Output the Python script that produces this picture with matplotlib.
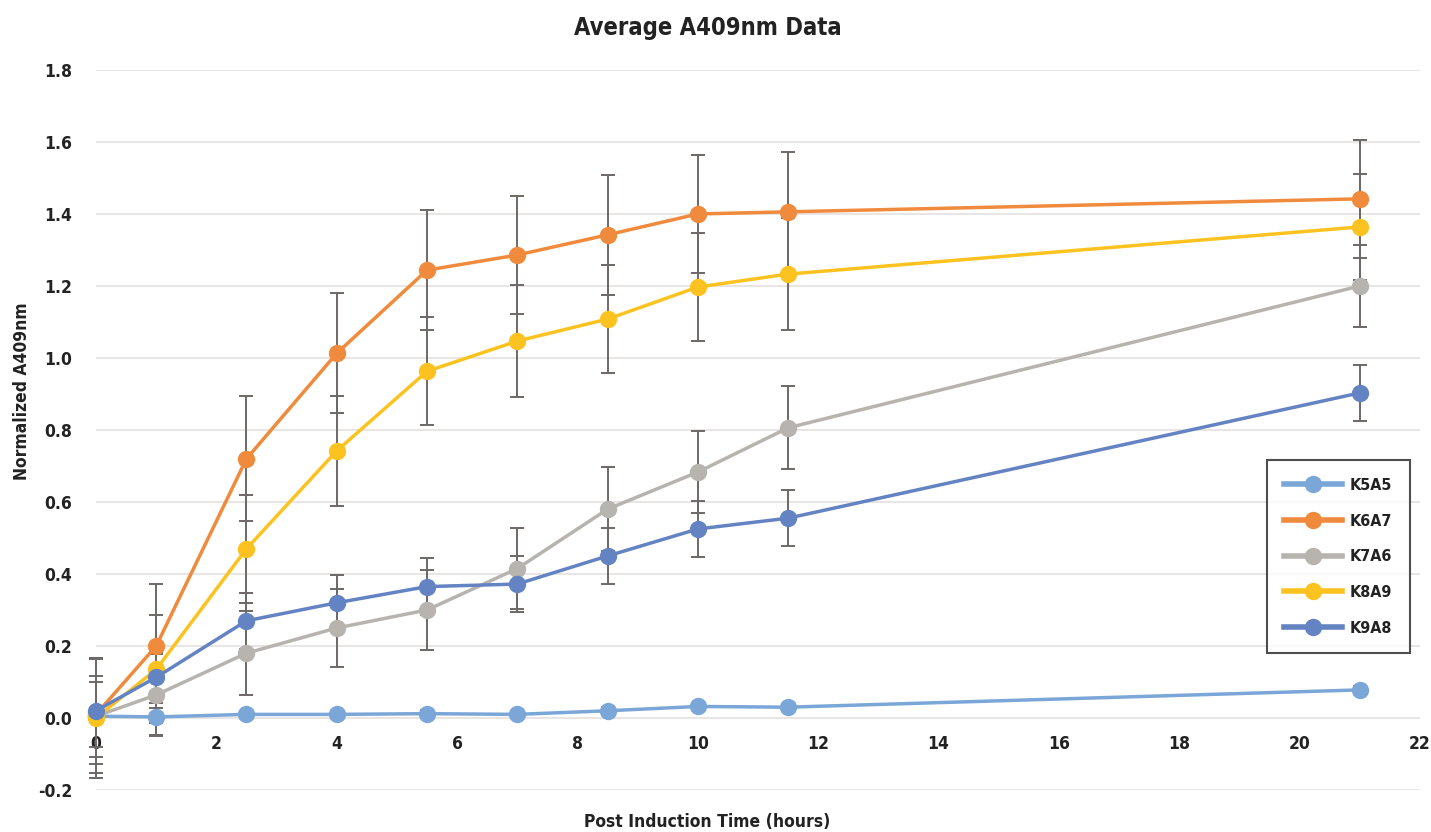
import matplotlib
matplotlib.use("Agg")
import matplotlib.pyplot as plt
from matplotlib import font_manager

# ---------------- data ----------------
time_h = [0, 1, 2.5, 4, 5.5, 7, 8.5, 10, 11.5, 21]
series_names = ["K5A5", "K6A7", "K7A6", "K8A9", "K9A8"]

k5a5 = [0.005, 0.003, 0.010, 0.010, 0.012, 0.010, 0.020, 0.032, 0.030, 0.078]
k6a7 = [0.010, 0.200, 0.720, 1.013, 1.244, 1.286, 1.342, 1.400, 1.406, 1.442]
k7a6 = [0.005, 0.064, 0.180, 0.250, 0.300, 0.415, 0.580, 0.683, 0.806, 1.200]
k8a9 = [0.000, 0.135, 0.470, 0.742, 0.963, 1.047, 1.108, 1.197, 1.233, 1.364]
k9a8 = [0.020, 0.113, 0.270, 0.320, 0.365, 0.372, 0.450, 0.525, 0.555, 0.903]

k5a5_err = [0.158, 0.050, 0.010, 0.010, 0.010, 0.010, 0.010, 0.010, 0.010, 0.010]
k6a7_err = [0.090, 0.172, 0.174, 0.167, 0.167, 0.164, 0.166, 0.164, 0.167, 0.164]
k7a6_err = [0.112, 0.114, 0.117, 0.107, 0.110, 0.112, 0.117, 0.115, 0.115, 0.114]
k8a9_err = [0.167, 0.150, 0.150, 0.153, 0.150, 0.155, 0.150, 0.150, 0.155, 0.147]
k9a8_err = [0.147, 0.070, 0.078, 0.078, 0.078, 0.078, 0.078, 0.078, 0.077, 0.078]

x_ticks = [0, 2, 4, 6, 8, 10, 12, 14, 16, 18, 20, 22]
y_ticks = [-0.2, 0.0, 0.2, 0.4, 0.6, 0.8, 1.0, 1.2, 1.4, 1.6, 1.8]

colors = ["#7aa7d8", "#f08a3c", "#b7b3af", "#fcc320", "#6483c2"]

# ---------------- fonts ----------------
avail = {f.name for f in font_manager.fontManager.ttflist}
if "Liberation Sans Narrow" in avail:
    fam = ["Liberation Sans Narrow", "DejaVu Sans"]
    stretch = "normal"
else:
    fam = ["DejaVu Sans"]
    stretch = "condensed"
plt.rcParams["font.family"] = fam
plt.rcParams["font.stretch"] = stretch

fig = plt.figure(figsize=(14.31, 8.32), dpi=100)
ax = fig.add_axes([0.0671, 0.0505, 0.9252, 0.8654])

values = [k5a5, k6a7, k7a6, k8a9, k9a8]
errors = [k5a5_err, k6a7_err, k7a6_err, k8a9_err, k9a8_err]

# error bars first (below markers)
for vals, errs in zip(values, errors):
    eb = ax.errorbar(time_h, vals, yerr=errs, fmt="none", ecolor="#6e6866",
                     elinewidth=1.4, capsize=5, capthick=1.4, zorder=2)
    for art in eb.lines[1] + eb.lines[2]:
        art.set_clip_on(False)

handles = []
for name, vals, col in zip(series_names, values, colors):
    h, = ax.plot(time_h, vals, color=col, lw=2.5, marker="o", markersize=12.5,
                 markeredgewidth=0, label=name, zorder=3, clip_on=False)
    handles.append(h)

ax.set_xlim(0, 22)
ax.set_ylim(-0.2, 1.8)
ax.set_yticks(y_ticks)
ax.set_yticklabels([f"{v:.1f}" for v in y_ticks])
ax.set_xticks(x_ticks)
ax.set_xticklabels([str(v) for v in x_ticks])

for s in ["top", "right", "left"]:
    ax.spines[s].set_visible(False)
ax.spines["bottom"].set_position(("data", 0))
ax.spines["bottom"].set_visible(False)

ax.grid(axis="y", color="#e2dedc", lw=1.1, zorder=0)
ax.grid(axis="x", visible=False)
ax.tick_params(axis="both", length=0, labelsize=12.5, colors="#222222")
ax.tick_params(axis="x", pad=12)
ax.tick_params(axis="y", pad=17)
for lab in ax.get_xticklabels() + ax.get_yticklabels():
    lab.set_fontweight("bold")
    lab.set_fontstretch(stretch)

fig.text(0.4945, 0.966, "Average A409nm Data", ha="center", va="center",
         fontsize=17, fontweight="bold", color="#222222", fontstretch=stretch)
fig.text(0.4945, 0.012, "Post Induction Time (hours)", ha="center", va="center",
         fontsize=12.5, fontweight="bold", color="#222222", fontstretch=stretch)
fig.text(0.0155, 0.53, "Normalized A409nm", ha="center", va="center",
         rotation=90, fontsize=12.5, fontweight="bold", color="#222222", fontstretch=stretch)

leg = ax.legend(handles=handles, loc="upper right", bbox_to_anchor=(0.9924, 0.458),
                borderaxespad=0, frameon=True, fancybox=False, handlelength=3.6,
                labelspacing=1.3, borderpad=1.1, handletextpad=0.5,
                prop={"weight": "bold", "size": 11.5, "family": fam, "stretch": stretch})
leg.get_frame().set_edgecolor("#222222")
leg.get_frame().set_linewidth(1.5)
for line in leg.get_lines():
    line.set_linewidth(4)
for t in leg.get_texts():
    t.set_color("#222222")

fig.savefig("out.png", dpi=100, facecolor="white")
